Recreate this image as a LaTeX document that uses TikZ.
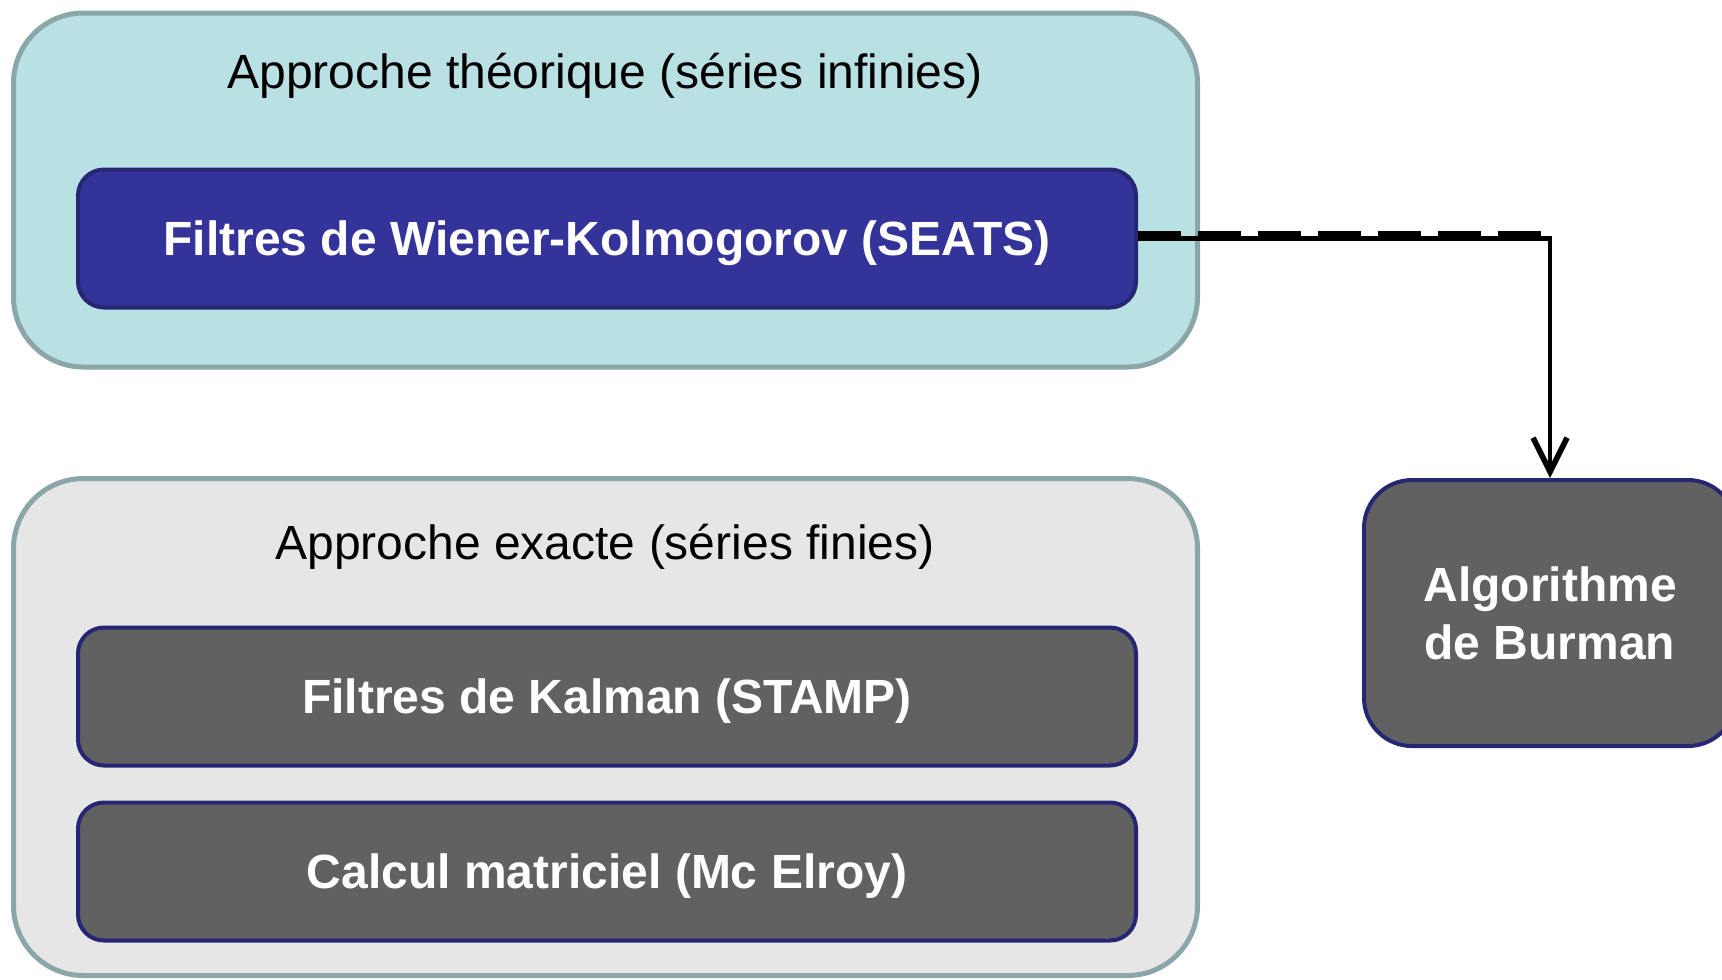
\documentclass[tikz,border=0pt]{standalone}
\usepackage{fontspec}
\setmainfont{Liberation Sans}
\usetikzlibrary{arrows.meta}
\definecolor{tealfill}{HTML}{B9E0E3}
\definecolor{greyfill}{HTML}{E6E6E6}
\definecolor{frameline}{HTML}{8BA6A8}
\definecolor{navyfill}{HTML}{333399}
\definecolor{navyline}{HTML}{262673}
\definecolor{darkfill}{HTML}{616161}
\tikzstyle{group} = [rectangle, draw=frameline, line width=1.25pt, rounded corners=17.5pt, minimum width=296pt]
\tikzstyle{method} = [rectangle, draw=navyline, line width=1pt, rounded corners=6.5pt, fill=darkfill, text=white, font=\fontsize{12}{14.3}\selectfont\bfseries, text depth=0pt, minimum width=264.5pt, minimum height=34.5pt]
\tikzstyle{title} = [text=black]
\tikzstyle{line} = [draw, line width=1.1pt, -{Straight Barb[length=8.5pt, width=8.5pt, line width=1.4pt]}]
\tikzstyle{dashband} = [draw, line width=1.5pt, dash pattern=on 10.75pt off 4.25pt]

\begin{document}
\begin{tikzpicture}[x=0.25pt, y=-0.25pt, font=\fontsize{12}{14.4}\selectfont]
			\useasboundingbox (0,0) rectangle (1722,979);
			% deux approches
			\node [group, fill=tealfill, minimum height=88.5pt] (theory) at (605.5,190) {};
			\node [group, fill=greyfill, minimum height=124.25pt] (exact) at (605.5,727) {};
			\node [title] (theorylabel) at (605,75.5) {Approche théorique (séries infinies)};
			\node [title] (exactlabel) at (605,546.5) {Approche exacte (séries finies)};
			% methodes
			\node [method, fill=navyfill] (wk) at (607,238.5) {Filtres de Wiener-Kolmogorov (SEATS)};
			\node [method] (kalman) at (607,696.5) {Filtres de Kalman (STAMP)};
			\node [method] (calcul) at (607,871.5) {Calcul matriciel (Mc Elroy)};
			\node [method, minimum width=93pt, minimum height=66.5pt, rounded corners=12pt, align=center] (burman) at (1550,613) {Algorithme\\de Burman};
			\path [line] (wk.east) -| (burman.north);
			\path [dashband] ([yshift=1.2pt]wk.east) -- ([yshift=1.2pt]wk.east -| burman.north);
		\end{tikzpicture}
\end{document}
